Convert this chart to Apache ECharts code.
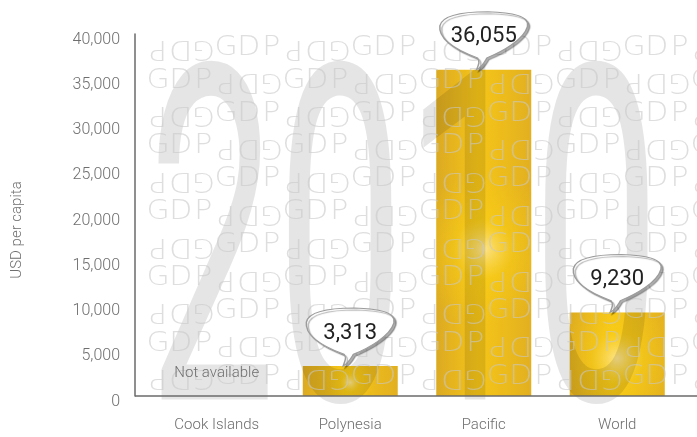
<!DOCTYPE html>
<html>
<head>
<meta charset="utf-8">
<script src="https://cdn.jsdelivr.net/npm/echarts@6/dist/echarts.min.js"></script>
<style>
  html, body { margin: 0; padding: 0; background: #fff; }
  #chart { width: 697px; height: 437px; }
</style>
</head>
<body>
<div id="chart"></div>
<script>
// data
const categories = ['Cook Islands', 'Polynesia', 'Pacific', 'World'];
const gdpPerCapita = [null, 3313, 36055, 9230];
const missingText = 'Not available';
const yMin = 0;
const yMax = 40000;
const yStep = 5000;
const yearText = '2010';
const patternWord = 'GDP';

const fmt = v => v.toLocaleString('en-US');

const chart = echarts.init(document.getElementById('chart'), null, { renderer: 'canvas' });

// speech bubble, tail tip at bottom
const bubblePath = 'path://M43 75 C45 69 47 64 44 60 C26 52 2 38 4 19 C7 3 36 1 55 1 C80 2 100 6 97 20 C93 37 70 52 54 60 C51 66 49 71 43 75 Z';

const bubbles = [];
gdpPerCapita.forEach((v, i) => {
    if (v == null) {
        bubbles.push({
            coord: [categories[i], 0],
            symbol: 'rect',
            symbolSize: 1,
            itemStyle: { color: 'rgba(0,0,0,0)', borderWidth: 0, shadowColor: 'rgba(0,0,0,0)' },
            label: {
                show: true, position: 'inside',
                formatter: missingText, fontSize: 15, color: '#6e6e6e',
                fontFamily: 'Roboto', fontWeight: 300, offset: [0, -22]
            }
        });
    } else {
        bubbles.push({ coord: [categories[i], v], value: v });
    }
});

const option = {
    animation: false,
    backgroundColor: '#fff',
    grid: { left: 150, right: 13, top: 34, bottom: 41 },
    xAxis: {
        type: 'category',
        data: categories,
        axisLine: { show: false },
        axisTick: { show: false },
        axisLabel: { color: '#6e6e6e', fontSize: 15, fontFamily: 'Roboto', fontWeight: 300, margin: 22 }
    },
    yAxis: {
        type: 'value',
        min: yMin,
        max: yMax,
        interval: yStep,
        offset: 15,
        name: 'USD per capita',
        nameLocation: 'middle',
        nameGap: 110,
        nameTextStyle: { color: '#6e6e6e', fontSize: 15, fontFamily: 'Roboto', fontWeight: 300, padding: [0, 30, 0, 0] },
        axisLine: { show: true, lineStyle: { color: '#6a6a6a', width: 1.5 } },
        axisTick: { show: false },
        splitLine: { show: false },
        axisLabel: {
            color: '#6e6e6e', fontSize: 16, fontFamily: 'Roboto', fontWeight: 300, margin: 15,
            verticalAlign: 'top', lineHeight: 11,
            formatter: v => fmt(v)
        }
    },
    series: [
        {
            type: 'bar',
            data: gdpPerCapita,
            barWidth: 95,
            itemStyle: {
                color: new echarts.graphic.LinearGradient(0, 0, 1, 0, [
                    { offset: 0, color: '#dcaa22' },
                    { offset: 0.45, color: '#f5c518' },
                    { offset: 1, color: '#e2b020' }
                ])
            },
            markPoint: {
                symbol: bubblePath,
                symbolSize: [88, 58],
                symbolOffset: [0, '-50%'],
                itemStyle: {
                    color: '#fff', borderColor: '#9c9c9c', borderWidth: 1.2,
                    shadowColor: 'rgba(0,0,0,0.3)', shadowBlur: 1, shadowOffsetX: 2, shadowOffsetY: 2
                },
                label: {
                    show: true, position: 'inside', offset: [0, -4],
                    color: '#222', fontSize: 22, fontFamily: 'Roboto',
                    formatter: p => fmt(p.value)
                },
                data: bubbles
            }
        },
        {
            type: 'bar',
            data: gdpPerCapita,
            barWidth: 95,
            barGap: '-100%',
            silent: true,
            itemStyle: {
                color: new echarts.graphic.RadialGradient(0.5, 0.55, 0.8, [
                    { offset: 0, color: 'rgba(255,240,190,0.7)' },
                    { offset: 0.4, color: 'rgba(255,215,20,0.35)' },
                    { offset: 1, color: 'rgba(255,210,20,0)' }
                ])
            }
        }
    ]
};
chart.setOption(option);

// decoration: baseline, big year, GDP letter pattern
const y0 = chart.convertToPixel({ yAxisIndex: 0 }, yMin);
const yTop = chart.convertToPixel({ yAxisIndex: 0 }, yMax);
const W = chart.getWidth();
const deco = [];

deco.push({
    type: 'line', z: 6,
    shape: { x1: 135, y1: y0, x2: W, y2: y0 },
    style: { stroke: '#6a6a6a', lineWidth: 1.5 }
});

deco.push({
    type: 'text', z: 3,
    x: 148, y: (y0 + yTop) / 2 + 67,
    scaleX: 0.485,
    style: {
        text: yearText, fontSize: 470, fontFamily: 'Roboto', fontWeight: 400,
        fill: 'rgba(0,0,0,0.1)', align: 'left', verticalAlign: 'middle'
    }
});

const rows = 11, cols = 25, rowGap = 32.9, colGap = 22.67;
for (let r = 0; r < rows; r++) {
    const cy = 48 + r * rowGap;
    for (let k = 0; k < cols; k++) {
        const w = Math.floor(k / 3), j = k % 3;
        const flipped = (w + r) % 2 === 0;
        const ch = flipped ? patternWord[2 - j] : patternWord[j];
        deco.push({
            type: 'text', z: 4,
            x: 158 + k * colGap, y: cy,
            rotation: flipped ? Math.PI : 0,
            scaleX: 1.15,
            style: {
                text: ch, fontSize: 26, fontFamily: 'DejaVu Sans', fontWeight: 200,
                fill: 'rgba(200,200,200,0.6)', align: 'center', verticalAlign: 'middle'
            }
        });
    }
}

chart.setOption({ graphic: { elements: deco } });
</script>
</body>
</html>
